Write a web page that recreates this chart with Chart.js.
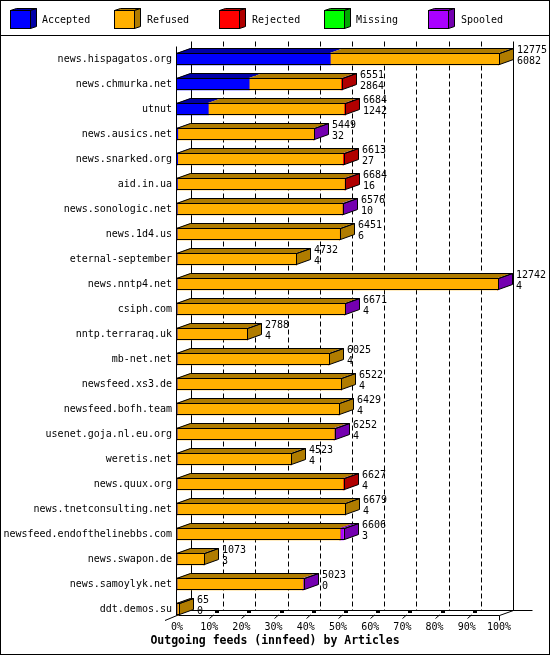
<!DOCTYPE html>
<html>
<head>
<meta charset="utf-8">
<title>Outgoing feeds (innfeed) by Articles</title>
<script src="https://cdn.jsdelivr.net/npm/chart.js@4.4.1/dist/chart.umd.min.js"></script>
<style>
    html, body { margin: 0; padding: 0; background: #fff; }
    canvas { display: block; }
</style>
</head>
<body>
<canvas id="innfeed" width="550" height="655"></canvas>
<script>
// feeds, top to bottom
const feeds = ['news.hispagatos.org', 'news.chmurka.net', 'utnut', 'news.ausics.net', 'news.snarked.org',
    'aid.in.ua', 'news.sonologic.net', 'news.1d4.us', 'eternal-september', 'news.nntp4.net', 'csiph.com',
    'nntp.terraraq.uk', 'mb-net.net', 'newsfeed.xs3.de', 'newsfeed.bofh.team', 'usenet.goja.nl.eu.org',
    'weretis.net', 'news.quux.org', 'news.tnetconsulting.net', 'newsfeed.endofthelinebbs.com',
    'news.swapon.de', 'news.samoylyk.net', 'ddt.demos.su'];

// numbers printed next to each bar
const offered = [12775, 6551, 6684, 5449, 6613, 6684, 6576, 6451, 4732, 12742, 6671, 2788, 6025, 6522, 6429, 6252, 4523, 6627, 6679, 6606, 1073, 5023, 65];
const accepted = [6082, 2864, 1242, 32, 27, 16, 10, 6, 4, 4, 4, 4, 4, 4, 4, 4, 4, 4, 4, 3, 3, 0, 0];

// segments (rejected / spooled are thin slivers, estimated)
const refused = [6693, 3637, 5382, 5397, 6546, 6628, 6546, 6445, 4728, 12718, 6647, 2784, 6021, 6518, 6425, 6228, 4519, 6583, 6675, 6463, 1070, 4993, 65];
const rejected = [0, 50, 60, 0, 40, 40, 0, 0, 0, 0, 0, 0, 0, 0, 0, 0, 0, 40, 0, 0, 0, 0, 0];
const missing = [0, 0, 0, 0, 0, 0, 0, 0, 0, 0, 0, 0, 0, 0, 0, 0, 0, 0, 0, 0, 0, 0, 0];
const spooled = [0, 0, 0, 20, 0, 0, 20, 0, 0, 20, 20, 0, 0, 0, 0, 20, 0, 0, 0, 140, 0, 30, 0];

const xTicks = ['0%', '10%', '20%', '30%', '40%', '50%', '60%', '70%', '80%', '90%', '100%'];

const maxOffered = Math.max(...offered);
const pct = v => v / maxOffered * 100;

const FONT = 'DejaVu Sans Mono';
const DX = 14, DY = -5;   // depth of the 3d bars

function poly(ctx, pts, fill, stroke) {
    ctx.beginPath();
    ctx.moveTo(pts[0][0], pts[0][1]);
    for (let k = 1; k < pts.length; k++) ctx.lineTo(pts[k][0], pts[k][1]);
    ctx.closePath();
    if (fill) { ctx.fillStyle = fill; ctx.fill(); }
    if (stroke) { ctx.strokeStyle = stroke; ctx.lineWidth = 1; ctx.stroke(); }
}

function line(ctx, x1, y1, x2, y2) {
    ctx.beginPath();
    ctx.moveTo(x1, y1);
    ctx.lineTo(x2, y2);
    ctx.stroke();
}

const threeD = {
    id: 'threeD',
    beforeDatasetsDraw(chart) {
        const ctx = chart.ctx, a = chart.chartArea, xs = chart.scales.x;
        const last = chart.getDatasetMeta(0).data[feeds.length - 1];
        const floorFront = Math.round(last.y + last.height / 2) + 0.5;
        const floorBack = floorFront + DY;
        const top = Math.round(a.top - 6) + 0.5;
        const left = Math.round(a.left);
        ctx.save();
        ctx.strokeStyle = '#000';
        ctx.lineWidth = 1;
        // dashed grid on back wall
        ctx.setLineDash([5, 3]);
        for (let v = 10; v < 100; v += 10) {
            const x = Math.round(xs.getPixelForValue(v) + DX) + 0.5;
            line(ctx, x, top, x, floorBack);
        }
        ctx.setLineDash([]);
        const xb0 = Math.round(xs.getPixelForValue(0) + DX) + 0.5;
        const xb100 = Math.round(xs.getPixelForValue(100) + DX) + 0.5;
        const xf100 = Math.round(xs.getPixelForValue(100)) + 0.5;
        line(ctx, xb0, top, xb0, floorBack);
        line(ctx, xb100, top, xb100, floorBack);
        // floor
        line(ctx, left, floorBack, xb100 + 19, floorBack);
        line(ctx, left, floorFront, xf100, floorFront);
        line(ctx, xf100, floorFront, xb100, floorBack);
        line(ctx, left - 12, floorFront + 5, left, floorFront);
        line(ctx, xf100, floorFront, xf100, floorFront + 5);
        ctx.fillStyle = '#000';
        for (let v = 10; v < 100; v += 10) {
            const x = Math.round(xs.getPixelForValue(v));
            line(ctx, x + 0.5, floorFront + 3, x + 4.5, floorFront - 0.5);
            ctx.fillRect(x + 6, floorBack - 0.5, 4, 3);
        }
        // front axis
        line(ctx, left - 0.5, Math.round(a.top) - 0.5, left - 0.5, floorFront);
        ctx.restore();
    },
    afterDatasetsDraw(chart) {
        const ctx = chart.ctx, sets = chart.data.datasets;
        ctx.save();
        for (let i = 0; i < feeds.length; i++) {
            const segs = [];
            sets.forEach((ds, k) => {
                const bar = chart.getDatasetMeta(k).data[i];
                if (ds.data[i] > 0) segs.push({ x0: bar.base, x1: bar.x, y: bar.y, h: bar.height, dark: ds.dark });
            });
            if (!segs.length) continue;
            const top = Math.round(segs[0].y - segs[0].h / 2);
            const bot = Math.round(segs[0].y + segs[0].h / 2);
            const xs = Math.round(segs[0].x0);
            const xe = Math.round(segs[segs.length - 1].x1);
            segs.forEach(s => {
                const a0 = Math.round(s.x0), a1 = Math.round(s.x1);
                poly(ctx, [[a0, top], [a1, top], [a1 + DX, top + DY], [a0 + DX, top + DY]], s.dark);
            });
            const lastDark = segs[segs.length - 1].dark;
            poly(ctx, [[xe + 0.5, top + 0.5], [xe + DX + 0.5, top + DY + 0.5], [xe + DX + 0.5, bot + DY - 0.5], [xe + 0.5, bot - 0.5]], lastDark, '#000');
            poly(ctx, [[xs - 0.5, top + 0.5], [xe + 0.5, top + 0.5], [xe + DX + 0.5, top + DY + 0.5], [xs + DX - 0.5, top + DY + 0.5]], null, '#000');
            ctx.strokeStyle = '#000';
            ctx.lineWidth = 1;
            ctx.strokeRect(xs - 0.5, top + 0.5, xe - xs + 1, bot - top - 1);

            // numbers
            ctx.fillStyle = '#000';
            ctx.font = '10px "' + FONT + '"';
            ctx.textAlign = 'left';
            ctx.textBaseline = 'middle';
            const y = segs[0].y;
            ctx.fillText(String(offered[i]), xe + 18, y - 8.5);
            ctx.fillText(String(accepted[i]), xe + 18, y + 2.5);
        }
        ctx.restore();
    },
    afterDraw(chart) {
        const ctx = chart.ctx, sets = chart.data.datasets;
        ctx.save();
        // legend with little cubes
        ctx.font = '10px "' + FONT + '"';
        ctx.textBaseline = 'middle';
        ctx.textAlign = 'left';
        sets.forEach((ds, k) => {
            const bx = Math.round(9.5 + 104.7 * k);
            ctx.fillStyle = ds.backgroundColor;
            ctx.fillRect(bx, 10, 20, 18);
            poly(ctx, [[bx + 0.5, 10.5], [bx + 6.5, 8.5], [bx + 26.5, 8.5], [bx + 20.5, 10.5]], ds.dark, '#000');
            poly(ctx, [[bx + 20.5, 10.5], [bx + 26.5, 8.5], [bx + 26.5, 26.5], [bx + 20.5, 28.5]], ds.dark, '#000');
            ctx.strokeStyle = '#000';
            ctx.strokeRect(bx + 0.5, 10.5, 20, 18);
            ctx.fillStyle = '#000';
            ctx.fillText(ds.label, Math.round(42.3 + 104.7 * k), 20);
        });
        ctx.strokeStyle = '#000';
        ctx.lineWidth = 1;
        line(ctx, 0, 35.5, 550, 35.5);
        ctx.strokeRect(0.5, 0.5, 549, 654);
        ctx.restore();
    }
};

new Chart(document.getElementById('innfeed'), {
    type: 'bar',
    data: {
        labels: feeds,
        datasets: [
            { label: 'Accepted', data: accepted.map(pct), backgroundColor: '#0000ff', dark: '#0000a8' },
            { label: 'Refused', data: refused.map(pct), backgroundColor: '#ffb000', dark: '#b07c00' },
            { label: 'Rejected', data: rejected.map(pct), backgroundColor: '#ff0000', dark: '#b00000' },
            { label: 'Missing', data: missing.map(pct), backgroundColor: '#00ff00', dark: '#00a800' },
            { label: 'Spooled', data: spooled.map(pct), backgroundColor: '#aa00ff', dark: '#7400b0' }
        ].map(ds => Object.assign(ds, { yAxisID: 'y', barThickness: 12, borderWidth: 0 }))
    },
    options: {
        responsive: false,
        animation: false,
        indexAxis: 'y',
        layout: { padding: { top: 46.5, left: 0, right: 0, bottom: 0 } },
        plugins: {
            legend: { display: false },
            tooltip: { enabled: false },
            title: {
                display: true,
                position: 'bottom',
                text: 'Outgoing feeds (innfeed) by Articles',
                color: '#000',
                font: { family: FONT, size: 11.5, weight: 'bold', lineHeight: 1.2 },
                padding: { top: 0, bottom: 7 }
            }
        },
        scales: {
            x: {
                stacked: true,
                min: 0,
                max: 100,
                grid: { display: false, drawTicks: false },
                border: { display: false },
                ticks: {
                    stepSize: 10,
                    padding: 0,
                    autoSkip: false,
                    maxRotation: 0,
                    color: '#000',
                    font: { family: FONT, size: 10 },
                    callback: (v, i) => xTicks[i]
                },
                afterFit(s) { s.height = 12.7; }
            },
            y: {
                stacked: true,
                grid: { display: false, drawTicks: false },
                border: { display: false },
                ticks: { padding: 5, autoSkip: false, color: '#000', font: { family: FONT, size: 10 } },
                afterFit(s) { s.width = 177; }
            },
            // empty axis just to keep room for the numbers on the right
            pad: {
                type: 'linear',
                position: 'right',
                grid: { display: false },
                border: { display: false },
                ticks: { display: false },
                afterFit(s) { s.width = 51; }
            }
        }
    },
    plugins: [threeD]
});
</script>
</body>
</html>
